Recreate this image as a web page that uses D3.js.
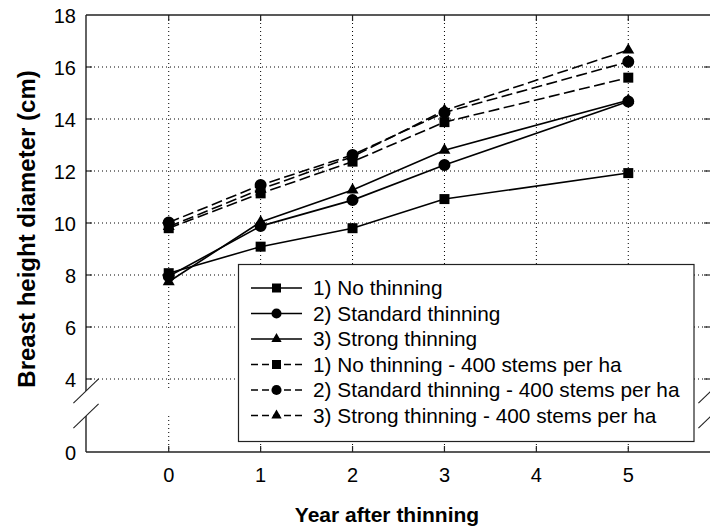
<!DOCTYPE html>
<html>
<head>
<meta charset="utf-8">
<script src="https://cdn.jsdelivr.net/npm/d3@7"></script>
<style>
  html, body { margin: 0; padding: 0; background: #fff; }
  svg { display: block; font-family: "Liberation Sans", Arial, sans-serif; }
</style>
</head>
<body>
<svg id="chart" width="710" height="529"></svg>
<script>
// ---- data ----
const years = [0, 1, 2, 3, 5];
const xTicks = [0, 1, 2, 3, 4, 5];
const yTicks = [0, 4, 6, 8, 10, 12, 14, 16, 18];
const yGridTicks = [4, 6, 8, 10, 12, 14, 16];
const seriesNames = [
  "1) No thinning",
  "2) Standard thinning",
  "3) Strong thinning",
  "1) No thinning - 400 stems per ha",
  "2) Standard thinning - 400 stems per ha",
  "3) Strong thinning - 400 stems per ha"
];
const noThin        = [8.07, 9.09, 9.80, 10.92, 11.92];
const stdThin       = [7.95, 9.88, 10.88, 12.23, 14.67];
const strongThin    = [7.74, 10.04, 11.27, 12.80, 14.72];
const noThin400     = [9.80, 11.14, 12.36, 13.88, 15.59];
const stdThin400    = [10.02, 11.46, 12.62, 14.25, 16.20];
const strongThin400 = [9.86, 11.30, 12.55, 14.33, 16.65];
const seriesValues = [noThin, stdThin, strongThin, noThin400, stdThin400, strongThin400];
const markerTypes = ["square", "circle", "triangle", "square", "circle", "triangle"];
const dashedFlags = [false, false, false, true, true, true];

// ---- layout ----
const L = 86, R = 711, T = 15, B = 452;
const svg = d3.select("#chart");
const x = d3.scaleLinear().domain([-0.9, 5.9]).range([L, R]);
const y = d3.scaleLinear().domain([0, 4, 18]).range([B, 379, T]);
const gapTop = y(4) + 12, gapBot = y(4) + 37;
const DASH = "11,4.5";

const symbolOf = {
  square: d3.symbolSquare,
  circle: d3.symbolCircle,
  triangle: d3.symbolTriangle
};
const sizeOf = { square: 100, circle: 113, triangle: 62 };
const legSizeOf = { square: 81, circle: 80, triangle: 46 };

// gridlines
const grid = svg.append("g").attr("stroke", "#000").attr("stroke-width", 1)
  .attr("stroke-dasharray", "1,3");
yGridTicks.forEach(v => {
  grid.append("line").attr("x1", L).attr("x2", R).attr("y1", y(v)).attr("y2", y(v));
});
xTicks.forEach(v => {
  grid.append("line").attr("x1", x(v)).attr("x2", x(v)).attr("y1", T).attr("y2", gapTop);
  grid.append("line").attr("x1", x(v)).attr("x2", x(v)).attr("y1", gapBot).attr("y2", B);
});

// frame
const frame = svg.append("g").attr("stroke", "#222").attr("stroke-width", 1.4).attr("fill", "none");
frame.append("line").attr("x1", L).attr("x2", R).attr("y1", T).attr("y2", T);
frame.append("line").attr("x1", L).attr("x2", R).attr("y1", B).attr("y2", B);
[L, R].forEach(xx => {
  frame.append("line").attr("x1", xx).attr("x2", xx).attr("y1", T).attr("y2", gapTop);
  frame.append("line").attr("x1", xx).attr("x2", xx).attr("y1", gapBot).attr("y2", B);
  [gapTop, gapBot].forEach(gy => {
    frame.append("line").attr("stroke-width", 1.1)
      .attr("x1", xx - 12.6).attr("y1", gy + 12.2)
      .attr("x2", xx + 12.6).attr("y2", gy - 12.2);
  });
});

// ticks (inward)
const ticks = svg.append("g").attr("stroke", "#222").attr("stroke-width", 1.2);
yTicks.filter(v => v > 0 && v < 18).forEach(v => {
  ticks.append("line").attr("x1", L).attr("x2", L + 6).attr("y1", y(v)).attr("y2", y(v));
  ticks.append("line").attr("x1", R - 7).attr("x2", R).attr("y1", y(v)).attr("y2", y(v));
});
xTicks.forEach(v => {
  ticks.append("line").attr("x1", x(v)).attr("x2", x(v)).attr("y1", B).attr("y2", B - 6);
  ticks.append("line").attr("x1", x(v)).attr("x2", x(v)).attr("y1", T).attr("y2", T + 6);
});

// tick labels
svg.append("g").selectAll("text").data(yTicks).join("text")
  .attr("x", L - 10).attr("y", d => y(d)).attr("dy", "0.4em")
  .attr("text-anchor", "end").attr("font-size", 20).attr("fill", "#000")
  .text(d => d);
svg.append("g").selectAll("text").data(xTicks).join("text")
  .attr("x", d => x(d)).attr("y", 482)
  .attr("text-anchor", "middle").attr("font-size", 20).attr("fill", "#000")
  .text(d => d);

// axis titles
svg.append("text").attr("x", 387).attr("y", 521.5).attr("text-anchor", "middle")
  .attr("font-size", 21).attr("font-weight", "bold").text("Year after thinning");
svg.append("text").attr("transform", "translate(35,229) rotate(-90)")
  .attr("text-anchor", "middle").attr("font-size", 24).attr("font-weight", "bold")
  .text("Breast height diameter (cm)");

// series
const line = d3.line().x(d => x(d[0])).y(d => y(d[1]));
seriesValues.forEach((vals, i) => {
  const pts = years.map((yr, j) => [yr, vals[j]]);
  svg.append("path").datum(pts).attr("d", line)
    .attr("fill", "none").attr("stroke", "#000").attr("stroke-width", 1.6)
    .attr("stroke-dasharray", dashedFlags[i] ? DASH : null);
});
seriesValues.forEach((vals, i) => {
  const m = markerTypes[i];
  svg.append("g").selectAll("path").data(years.map((yr, j) => [yr, vals[j]])).join("path")
    .attr("transform", d => `translate(${x(d[0])},${y(d[1])})`)
    .attr("d", d3.symbol().type(symbolOf[m]).size(sizeOf[m])())
    .attr("fill", "#000");
});

// legend
const lg = svg.append("g");
lg.append("rect").attr("x", 238.5).attr("y", 264.5).attr("width", 455.5).attr("height", 177)
  .attr("fill", "#fff").attr("stroke", "#222").attr("stroke-width", 1.2);
seriesNames.forEach((name, i) => {
  const ry = 288 + i * 25.5;
  lg.append("line").attr("x1", 251).attr("x2", 302).attr("y1", ry).attr("y2", ry)
    .attr("stroke", "#000").attr("stroke-width", 1.6)
    .attr("stroke-dasharray", dashedFlags[i] ? "7,4" : null);
  const m = markerTypes[i];
  lg.append("path").attr("transform", `translate(276.5,${ry})`)
    .attr("d", d3.symbol().type(symbolOf[m]).size(legSizeOf[m])()).attr("fill", "#000");
  lg.append("text").attr("x", 313).attr("y", ry).attr("dy", "0.35em")
    .attr("font-size", 20.8).attr("fill", "#000").text(name);
});
</script>
</body>
</html>
